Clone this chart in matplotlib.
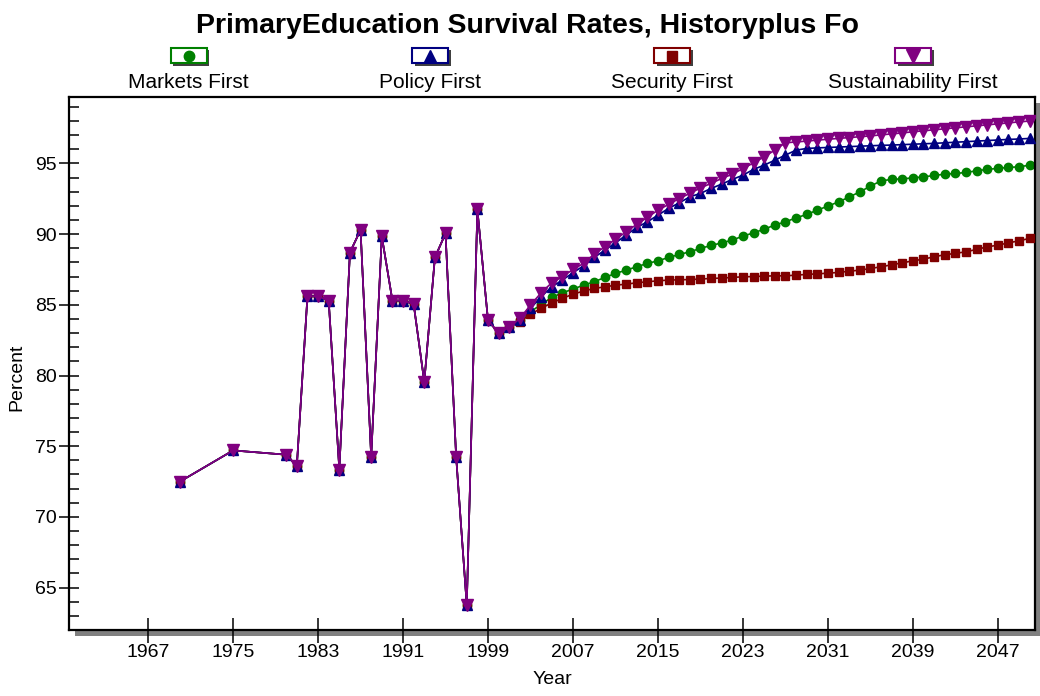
import matplotlib
matplotlib.use("Agg")
import matplotlib.pyplot as plt
from matplotlib.patches import Rectangle
from matplotlib.lines import Line2D
from matplotlib.ticker import MultipleLocator

plt.rcParams['font.family'] = ['Liberation Sans', 'DejaVu Sans']

# ---------------- data ----------------
title = "PrimaryEducation Survival Rates, Historyplus Fo"
series_names = ["Markets First", "Policy First", "Security First", "Sustainability First"]

hist_years = [1970, 1975, 1980, 1981, 1982, 1983, 1984, 1985, 1986, 1987, 1988, 1989,
              1990, 1991, 1992, 1993, 1994, 1995, 1996, 1997, 1998, 1999, 2000, 2001]
hist_values = [72.5, 74.7, 74.4, 73.6, 85.6, 85.6, 85.3, 73.35, 88.7, 90.3, 74.25, 89.85,
               85.3, 85.3, 85.05, 79.55, 88.35, 90.05, 74.25, 63.75, 91.75, 83.9, 83.0, 83.4]

fc_years = list(range(2002, 2051))

markets_first = [83.9, 84.5, 85.03, 85.52, 85.85, 86.11, 86.39, 86.63, 86.94, 87.22,
                 87.45, 87.69, 87.93, 88.11, 88.35, 88.56, 88.75, 88.99, 89.2, 89.38,
                 89.58, 89.86, 90.09, 90.35, 90.64, 90.87, 91.15, 91.39, 91.7, 91.98,
                 92.28, 92.62, 92.99, 93.39, 93.77, 93.87, 93.91, 93.98, 94.05, 94.15,
                 94.24, 94.29, 94.36, 94.48, 94.58, 94.65, 94.72, 94.76, 94.88]

policy_first = [83.9, 84.75, 85.57, 86.27, 86.75, 87.27, 87.76, 88.35, 88.87, 89.38,
                89.93, 90.47, 90.87, 91.34, 91.82, 92.21, 92.64, 92.88, 93.23, 93.54,
                93.87, 94.17, 94.58, 94.88, 95.23, 95.59, 95.94, 96.06, 96.1, 96.13,
                96.16, 96.19, 96.22, 96.25, 96.28, 96.3, 96.33, 96.36, 96.39, 96.42,
                96.46, 96.5, 96.54, 96.58, 96.62, 96.66, 96.7, 96.73, 96.77]

security_first = [83.8, 84.34, 84.75, 85.14, 85.45, 85.76, 85.97, 86.16, 86.27, 86.39,
                  86.46, 86.56, 86.63, 86.7, 86.75, 86.77, 86.79, 86.82, 86.87, 86.89,
                  86.94, 86.98, 87.0, 87.03, 87.05, 87.05, 87.1, 87.15, 87.19, 87.24,
                  87.29, 87.38, 87.45, 87.57, 87.69, 87.83, 87.97, 88.11, 88.23, 88.4,
                  88.54, 88.64, 88.75, 88.92, 89.1, 89.22, 89.38, 89.53, 89.7]

sustainability_first = [84.04, 84.98, 85.85, 86.56, 86.98, 87.5, 87.93, 88.59, 89.1, 89.63,
                        90.16, 90.69, 91.18, 91.7, 92.1, 92.52, 92.88, 93.27, 93.59, 93.94,
                        94.24, 94.64, 95.04, 95.47, 95.94, 96.46, 96.52, 96.58, 96.65, 96.71,
                        96.77, 96.83, 96.89, 96.95, 97.02, 97.09, 97.16, 97.24, 97.31, 97.38,
                        97.45, 97.52, 97.59, 97.66, 97.73, 97.8, 97.87, 97.94, 98.0]

x_ticks = [1967, 1975, 1983, 1991, 1999, 2007, 2015, 2023, 2031, 2039, 2047]
y_ticks = [65, 70, 75, 80, 85, 90, 95]

# ---------------- styles ----------------
colors = ["#008000", "#000080", "#800000", "#800080"]
markers = ["o", "^", "s", "v"]
msizes = [6.0, 7.5, 5.5, 8.0]
draw_order = [0, 2, 1, 3]

W, H = 1040, 696
fig = plt.figure(figsize=(W / 100, H / 100), dpi=100)
fig.patch.set_facecolor("white")

ax_l, ax_r, ax_t, ax_b = 69, 1035, 97, 630
ax = fig.add_axes([ax_l / W, 1 - ax_b / H, (ax_r - ax_l) / W, (ax_b - ax_t) / H])
ax.set_zorder(1)
ax.set_facecolor("white")

# drop shadow of the frame
sh = 6
fig.add_artist(Rectangle(((ax_l + sh) / W, 1 - (ax_b + sh) / H), (ax_r - ax_l) / W,
                         (ax_b - ax_t) / H, transform=fig.transFigure,
                         facecolor="#808080", edgecolor="none", zorder=0))

all_series = [markets_first, policy_first, security_first, sustainability_first]
for i in draw_order:
    xs = hist_years + fc_years
    ys = hist_values + all_series[i]
    ax.plot(xs, ys, color=colors[i], lw=1.2, marker=markers[i], ms=msizes[i],
            mec=colors[i], mfc=colors[i], zorder=2 + draw_order.index(i))

ax.set_xlim(1959.55, 2050.5)
ax.set_ylim(62.0, 99.7)
ax.set_xticks(x_ticks)
ax.set_xticklabels([str(t) for t in x_ticks])
ax.set_yticks(y_ticks)
ax.set_yticklabels([str(t) for t in y_ticks])
ax.yaxis.set_minor_locator(MultipleLocator(1))

ax.tick_params(axis="x", which="major", direction="inout", length=18, width=1.1,
               labelsize=14, pad=1)
ax.tick_params(axis="y", which="major", direction="inout", length=15, width=1.1,
               labelsize=14, pad=1)
ax.tick_params(axis="y", which="minor", direction="in", length=7, width=1.1)
for s in ax.spines.values():
    s.set_linewidth(1.6)
    s.set_color("black")

# axis titles and chart title
fig.text(17 / W, 1 - 377 / H, "Percent", rotation=90, ha="center", va="center", fontsize=14)
fig.text(552 / W, 1 - 680 / H, "Year", ha="center", va="center", fontsize=14)
fig.text(527 / W, 1 - 33 / H, title, ha="center", va="baseline", fontsize=20.5,
         fontweight="bold")

# legend
leg_x = [188.5, 430, 672, 913]
for i, cx in enumerate(leg_x):
    bw, bh = 36, 15
    x0, y0 = cx - bw / 2, 48
    fig.add_artist(Rectangle(((x0 + 2.5) / W, 1 - (y0 + bh + 2.5) / H), bw / W, bh / H,
                             transform=fig.transFigure, facecolor="#404040",
                             edgecolor="none", zorder=2))
    fig.add_artist(Rectangle((x0 / W, 1 - (y0 + bh) / H), bw / W, bh / H,
                             transform=fig.transFigure, facecolor="white",
                             edgecolor=colors[i], lw=1.5, zorder=3))
    fig.add_artist(Line2D([cx / W], [1 - (y0 + bh / 2) / H], transform=fig.transFigure,
                          marker=markers[i], color=colors[i], ms=msizes[i] + 1.5,
                          ls="none", zorder=4))
    fig.text(cx / W, 1 - 88 / H, series_names[i], ha="center", va="baseline", fontsize=15)

fig.savefig("out.png", dpi=100, facecolor="white")
